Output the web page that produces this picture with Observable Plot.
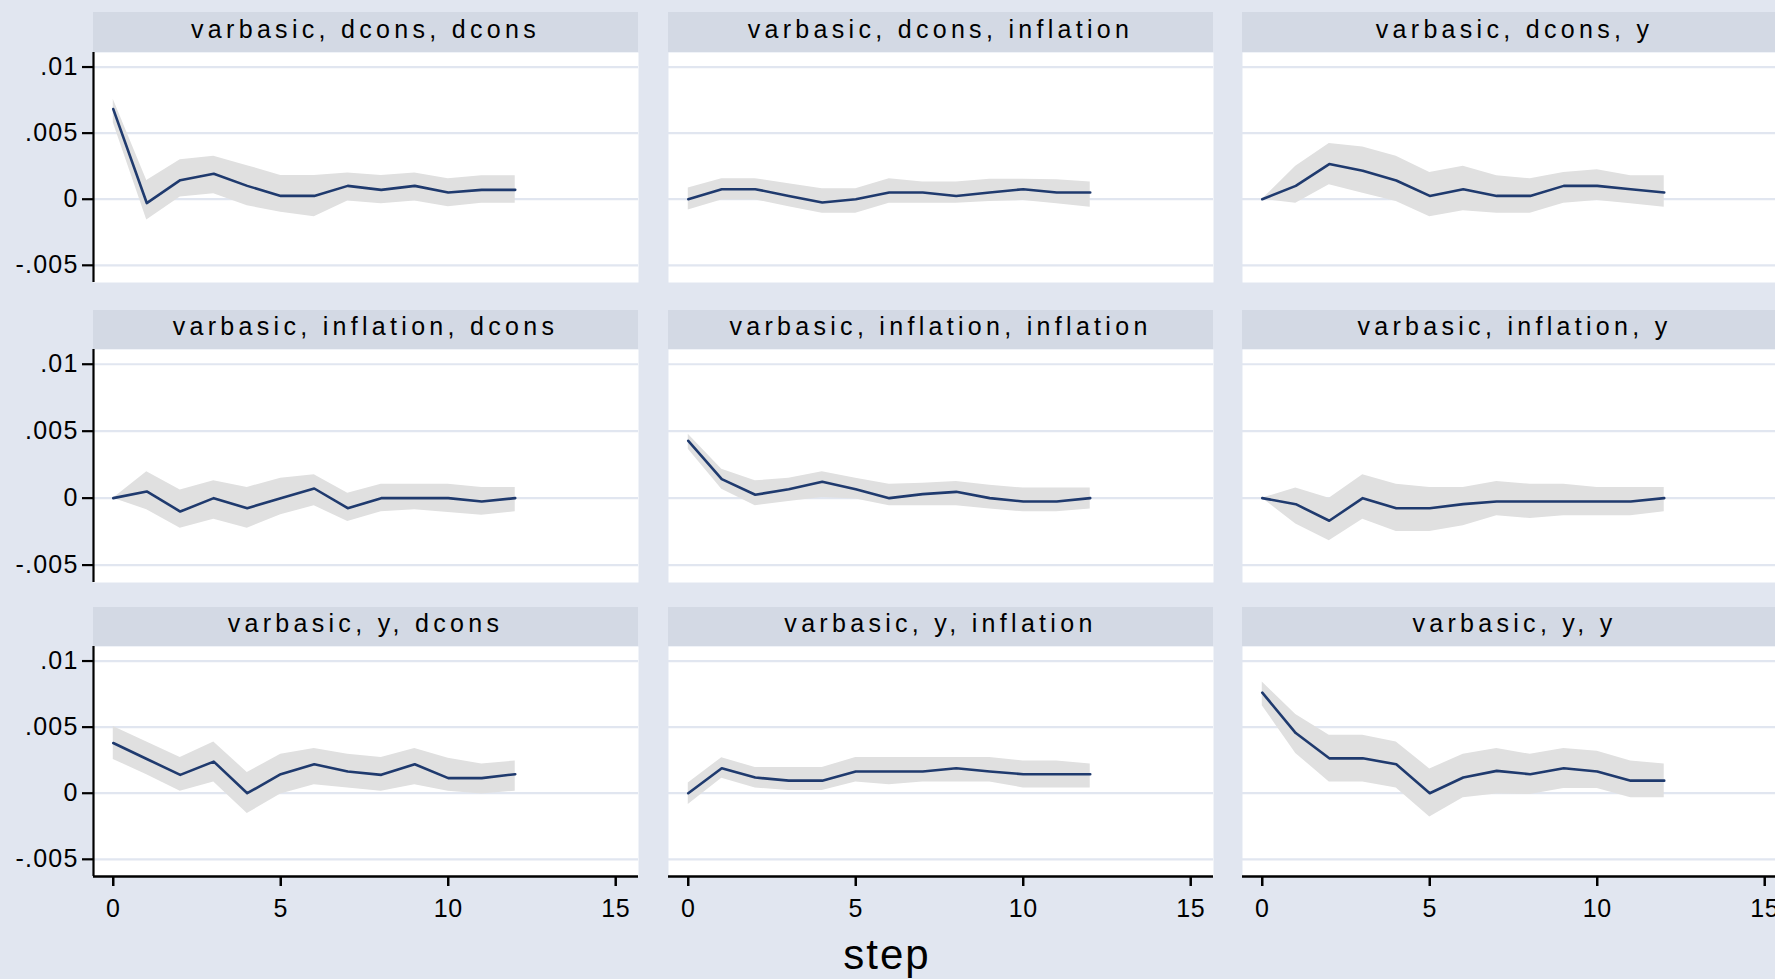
<!DOCTYPE html>
<html>
<head>
<meta charset="utf-8">
<script src="https://cdn.jsdelivr.net/npm/d3@7"></script>
<script src="https://cdn.jsdelivr.net/npm/@observablehq/plot@0.6"></script>
<style>
  html, body { margin: 0; padding: 0; background: #e1e6f0; overflow: hidden; }
  #chart { position: relative; width: 1775px; height: 979px; overflow: hidden; background: #e1e6f0;
           font-family: "Liberation Sans", Arial, Helvetica, sans-serif; }
  .hdr { position: absolute; background: #d3d9e4; color: #000; text-align: center;
         font-size: 25px; letter-spacing: 4.3px; white-space: nowrap; box-sizing: border-box; }
  .panel { position: absolute; overflow: visible; }
  .panel svg { max-width: none !important; display: block; }
  .panel svg g[aria-label="y-axis tick label"] text { letter-spacing: 1.2px; }
  .panel svg g[aria-label="x-axis tick label"] text { letter-spacing: 0.5px; }
  #xtitle { position: absolute; font-size: 42px; line-height: 42px; letter-spacing: 2px; color: #000; transform: translateX(-50%); white-space: nowrap; }
</style>
</head>
<body>
<div id="chart"></div>
<script>
// ---- data ----
const steps = [0,1,2,3,4,5,6,7,8,9,10,11,12];
const xTicks = [0, 5, 10, 15];
const yTicks = [-0.005, 0, 0.005, 0.01];
const yTickLabels = ["-.005", "0", ".005", ".01"];
const xTitle = "step";

const impulses = ["dcons", "inflation", "y"];
const responses = ["dcons", "inflation", "y"];

// impulse dcons
const irf_dcons_dcons = [.00682, -.00029, .00144, .00193, .00101, .00025, .00025, .00101, .00071, .00101, .00051, .00071, .00071];
const hi_dcons_dcons  = [.00757, .00142, .00299, .00325, .00254, .0018, .0018, .00198, .0018, .00198, .00155, .00177, .00177];
const lo_dcons_dcons  = [.00579, -.00157, .00016, .00041, -.00049, -.00099, -.00132, -.00013, -.00035, -.00013, -.00056, -.0003, -.0003];

const irf_dcons_inflation = [0, .00076, .00076, .00025, -.00025, 0, .00051, .00051, .00025, .00051, .00076, .00051, .00051];
const hi_dcons_inflation  = [.00084, .00155, .00155, .00117, .00079, .00079, .00155, .0013, .0013, .00152, .00152, .00147, .0013];
const lo_dcons_inflation  = [-.00081, -.00005, -.00005, -.00056, -.00106, -.00106, -.0003, -.0003, -.0003, -.00018, -.0001, -.00035, -.00061];

const irf_dcons_y = [0, .00101, .00266, .00215, .00142, .00025, .00076, .00025, .00025, .00101, .00101, .00076, .00051];
const hi_dcons_y  = [0, .00249, .00421, .00396, .00325, .00203, .00249, .00177, .00155, .00203, .00223, .00177, .00177];
const lo_dcons_y  = [0, -.0003, .00109, .00046, -.00018, -.00132, -.00087, -.00106, -.00106, -.0003, -.0001, -.00035, -.00061];

// impulse inflation
const irf_inflation_dcons = [0, .0005, -.001, 0, -.00075, 0, .00072, -.00075, 0, 0, 0, -.00025, 0];
const hi_inflation_dcons  = [0, .00197, .0006, .00129, .0008, .00149, .00174, .00037, .00104, .00104, .00104, .0008, .0008];
const lo_inflation_dcons  = [0, -.00087, -.00224, -.00157, -.00224, -.00124, -.00057, -.00174, -.00102, -.00087, -.00107, -.00127, -.00102];

const irf_inflation_inflation = [.00428, .00142, .00025, .00067, .00122, .00067, 0, .0003, .00047, 0, -.00025, -.00025, 0];
const hi_inflation_inflation  = [.00478, .00216, .00129, .00149, .00197, .00149, .00104, .00112, .00124, .00097, .00075, .00075, .00075];
const lo_inflation_inflation  = [.00366, .00067, -.00057, -.00025, .00005, -.00007, -.00057, -.00057, -.00057, -.00082, -.00102, -.00102, -.00082];

const irf_inflation_y = [0, -.00045, -.00169, 0, -.00075, -.00075, -.00045, -.00025, -.00025, -.00025, -.00025, -.00025, 0];
const hi_inflation_y  = [0, .00075, 0, .00174, .00104, .0008, .0008, .00124, .00104, .00104, .0008, .0008, .0008];
const lo_inflation_y  = [0, -.00194, -.00318, -.00157, -.00249, -.00249, -.00206, -.00132, -.00152, -.00132, -.00132, -.00132, -.00102];

// impulse y
const irf_y_dcons = [.0038, .00259, .00139, .00239, 0, .00144, .00219, .00164, .00139, .00219, .00114, .00114, .00144];
const hi_y_dcons  = [.00505, .00388, .00271, .00388, .00157, .00294, .00338, .00294, .00271, .00338, .00264, .00221, .00244];
const lo_y_dcons  = [.00256, .00139, .00015, .00085, -.00154, -.00005, .00065, .0004, .00015, .00065, .00015, -.00005, .00015];

const irf_y_inflation = [0, .00189, .00119, .00095, .00095, .00164, .00164, .00164, .00189, .00164, .00144, .00144, .00144];
const hi_y_inflation  = [.00077, .00269, .00194, .00194, .00194, .00271, .00271, .00271, .00271, .00271, .00244, .00244, .00221];
const lo_y_inflation  = [-.00085, .00114, .0004, .0002, .0002, .00085, .00065, .00085, .00085, .00085, .0004, .0004, .0004];

const irf_y_y = [.00761, .00455, .00264, .00264, .00219, 0, .00119, .00169, .00144, .00189, .00164, .00095, .00095];
const hi_y_y  = [.00841, .00595, .00438, .00438, .00388, .00184, .00294, .00338, .00294, .00338, .00318, .00244, .00221];
const lo_y_y  = [.00662, .00301, .00085, .00085, .0004, -.00179, -.00035, -.00005, -.0001, .00035, .00035, -.00035, -.00035];

const series = {
  dcons:     { dcons: [irf_dcons_dcons, lo_dcons_dcons, hi_dcons_dcons],
               inflation: [irf_dcons_inflation, lo_dcons_inflation, hi_dcons_inflation],
               y: [irf_dcons_y, lo_dcons_y, hi_dcons_y] },
  inflation: { dcons: [irf_inflation_dcons, lo_inflation_dcons, hi_inflation_dcons],
               inflation: [irf_inflation_inflation, lo_inflation_inflation, hi_inflation_inflation],
               y: [irf_inflation_y, lo_inflation_y, hi_inflation_y] },
  y:         { dcons: [irf_y_dcons, lo_y_dcons, hi_y_dcons],
               inflation: [irf_y_inflation, lo_y_inflation, hi_y_inflation],
               y: [irf_y_y, lo_y_y, hi_y_y] }
};

// ---- layout ----
const colLeft = [93, 668, 1242];
const plotW = 545;
const rowTop = [52, 349, 646];
const rowH = [230, 233, 230];
const hdrTop = [12, 310, 607];
const hdrH = [40, 39, 39];
const yMarginLeft = 93;
const xMarginBottom = 70;
const xDomain = [-0.59, 15.68];
const yDomain = [-0.0063, 0.0111];

const FONT = '"Liberation Sans", Arial, Helvetica, sans-serif';
const lineColor = "#1f3a6e";
const bandColor = "#e0e0e0";
const gridColor = "#e1e6f0";

const chart = document.getElementById("chart");

impulses.forEach((imp, r) => {
  responses.forEach((resp, c) => {
    const [irf, lo, hi] = series[imp][resp];
    const rows = steps.map((s, i) => ({step: s, irf: irf[i], lo: lo[i], hi: hi[i]}));
    const isLeft = c === 0;
    const isBottom = r === impulses.length - 1;

    // header strip
    const h = document.createElement("div");
    h.className = "hdr";
    h.style.left = colLeft[c] + "px";
    h.style.top = hdrTop[r] + "px";
    h.style.width = plotW + "px";
    h.style.height = hdrH[r] + "px";
    h.style.lineHeight = (hdrH[r] - 6) + "px";
    h.textContent = `varbasic, ${imp}, ${resp}`;
    chart.appendChild(h);

    const marks = [
      Plot.frame({fill: "white", stroke: "none"}),
      Plot.gridY(yTicks, {stroke: gridColor, strokeOpacity: 1, strokeWidth: 2.2}),
      Plot.areaY(rows, {x: "step", y1: "lo", y2: "hi", fill: bandColor, fillOpacity: 1}),
      Plot.lineY(rows, {x: "step", y: "irf", stroke: lineColor, strokeWidth: 2.6})
    ];
    if (isLeft) {
      marks.push(Plot.axisY({ticks: yTicks, tickFormat: (d) => yTickLabels[yTicks.indexOf(d)], label: null,
        tickSize: 11, tickPadding: 4, fontSize: 25, strokeWidth: 2.2, stroke: "black", fill: "black"}));
      marks.push(Plot.ruleX([xDomain[0]], {stroke: "black", strokeWidth: 2.2}));
    }
    if (isBottom) {
      marks.push(Plot.axisX({ticks: xTicks, tickFormat: (d) => String(d), label: null,
        tickSize: 10, tickPadding: 13, fontSize: 25, strokeWidth: 2.5, stroke: "black", fill: "black"}));
      marks.push(Plot.ruleY([yDomain[0]], {stroke: "black", strokeWidth: 2.5}));
    }

    const w = (isLeft ? yMarginLeft : 0) + plotW;
    const ht = rowH[r] + (isBottom ? xMarginBottom : 0);
    const svg = Plot.plot({
      width: w,
      height: ht,
      marginTop: 0,
      marginRight: 0,
      marginBottom: isBottom ? xMarginBottom : 0,
      marginLeft: isLeft ? yMarginLeft : 0,
      x: {domain: xDomain, axis: null},
      y: {domain: yDomain, axis: null},
      style: {background: "transparent", fontFamily: FONT, color: "black", overflow: "visible", maxWidth: "none"},
      marks
    });
    const wrap = document.createElement("div");
    wrap.className = "panel";
    wrap.style.left = (isLeft ? colLeft[c] - yMarginLeft : colLeft[c]) + "px";
    wrap.style.top = rowTop[r] + "px";
    wrap.style.width = w + "px";
    wrap.style.height = ht + "px";
    wrap.appendChild(svg);
    chart.appendChild(wrap);
  });
});

const xt = document.createElement("div");
xt.id = "xtitle";
xt.style.left = "887px";
xt.style.top = "934px";
xt.textContent = xTitle;
chart.appendChild(xt);
</script>
</body>
</html>
